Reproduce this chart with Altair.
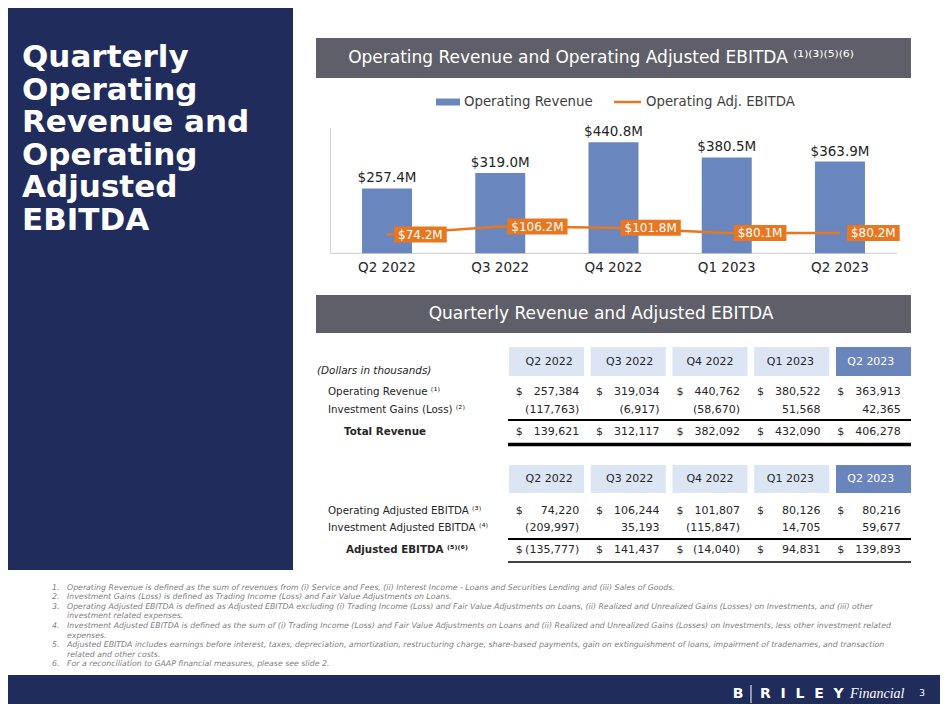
import altair as alt
import pandas as pd

# ---------------- values ----------------
quarters = ["Q2 2022", "Q3 2022", "Q4 2022", "Q1 2023", "Q2 2023"]
operating_revenue_m = [257.4, 319.0, 440.8, 380.5, 363.9]
operating_adj_ebitda_m = [74.2, 106.2, 101.8, 80.1, 80.2]

t1_operating_revenue = [257384, 319034, 440762, 380522, 363913]
t1_investment_gains = [-117763, -6917, -58670, 51568, 42365]
t1_total_revenue = [139621, 312117, 382092, 432090, 406278]

t2_operating_adj_ebitda = [74220, 106244, 101807, 80126, 80216]
t2_investment_adj_ebitda = [-209997, 35193, -115847, 14705, 59677]
t2_adjusted_ebitda = [-135777, 141437, -14040, 94831, 139893]

title_lines = ["Quarterly", "Operating", "Revenue and", "Operating", "Adjusted", "EBITDA"]
chart_title = "Operating Revenue and Operating Adjusted EBITDA \u207d\u00b9\u207e\u207d\u00b3\u207e\u207d\u2075\u207e\u207d\u2076\u207e"
table_title = "Quarterly Revenue and Adjusted EBITDA"
legend_labels = ["Operating Revenue", "Operating Adj. EBITDA"]
units_note = "(Dollars in thousands)"
t1_labels = ["Operating Revenue \u207d\u00b9\u207e", "Investment Gains (Loss) \u207d\u00b2\u207e", "Total Revenue"]
t2_labels = ["Operating Adjusted EBITDA \u207d\u00b3\u207e", "Investment Adjusted EBITDA \u207d\u2074\u207e",
             "Adjusted EBITDA \u207d\u2075\u207e\u207d\u2076\u207e"]
footnote_nums = ["1.", "2.", "3.", "", "4.", "", "5.", "", "6."]
footnote_lines = [
    "Operating Revenue is defined as the sum of revenues from (i) Service and Fees, (ii) Interest Income - Loans and Securities Lending and (iii) Sales of Goods.",
    "Investment Gains (Loss) is defined as Trading Income (Loss) and Fair Value Adjustments on Loans.",
    "Operating Adjusted EBITDA is defined as Adjusted EBITDA excluding (i) Trading Income (Loss) and Fair Value Adjustments on Loans, (ii) Realized and Unrealized Gains (Losses) on Investments, and  (iii) other",
    "investment related expenses.",
    "Investment Adjusted EBITDA is defined as the sum of (i) Trading Income (Loss) and Fair Value Adjustments on Loans and (ii) Realized and Unrealized Gains (Losses) on Investments, less other investment related",
    "expenses.",
    "Adjusted EBITDA includes earnings before interest, taxes, depreciation, amortization, restructuring charge, share-based payments, gain on extinguishment of loans, impairment of tradenames, and transaction",
    "related and other costs.",
    "For a reconciliation to GAAP financial measures, please see slide 2.",
]
page_number = "3"

# ---------------- styling / layout ----------------
W, H = 932, 696
OFF = 8
FONT = "DejaVu Sans"
NAVY = "#1f2c5c"
GRAYBAR = "#5f5f69"
BLUE = "#6a86be"
ORANGE = "#e87722"
HDR_LIGHT = "#dce5f3"
HDR_DARK = "#6a85bb"
TXT = "#262626"

LX = alt.Scale(domain=[OFF, OFF + W], range=[0, W], nice=False, zero=False)
LY = alt.Scale(domain=[OFF, OFF + H], range=[0, H], nice=False, zero=False)
ONE = alt.Data(values=[{"k": 0}])

# bar chart scales (pixel ranges of the plot region on the slide)
PX_PER_M = 0.252
BASE_Y = 253.3
CX = alt.Scale(domain=quarters, range=[330.4 - OFF, 896.6 - OFF], paddingInner=0, paddingOuter=0)
CY = alt.Scale(domain=[0, 500], range=[BASE_Y - OFF, BASE_Y - OFF - 500 * PX_PER_M], nice=False, zero=True)
# table column scale
TX = alt.Scale(domain=quarters, range=[509 - OFF, 911 - OFF], paddingInner=0.0826, paddingOuter=0)


def rect(x1, y1, x2, y2, color):
    return alt.Chart(ONE).mark_rect(color=color).encode(
        x=alt.XDatum(x1, type="quantitative", scale=LX, axis=None), x2=alt.X2Datum(x2),
        y=alt.YDatum(y1, type="quantitative", scale=LY, axis=None), y2=alt.Y2Datum(y2))


def rule(x1, y1, x2, y2, color, width):
    return alt.Chart(ONE).mark_rule(color=color, strokeWidth=width).encode(
        x=alt.XDatum(x1, type="quantitative", scale=LX, axis=None), x2=alt.X2Datum(x2),
        y=alt.YDatum(y1, type="quantitative", scale=LY, axis=None), y2=alt.Y2Datum(y2))


def texts(rows, **kw):
    return alt.Chart(pd.DataFrame(rows)).mark_text(**kw).encode(
        x=alt.X("x:Q", scale=LX, axis=None), y=alt.Y("y:Q", scale=LY, axis=None), text="t:N")


layers = []

# background panels
layers.append(rect(0, 0, 293, 570, NAVY))
layers.append(rect(0, 675, 960, 720, NAVY))
layers.append(rect(316, 38, 911, 78, GRAYBAR))
layers.append(rect(316, 295, 911, 333, GRAYBAR))

# left title
layers.append(texts([{"x": 22, "y": 67 + 32.6 * i, "t": s} for i, s in enumerate(title_lines)],
                    align="left", baseline="alphabetic", font=FONT, fontSize=31, fontWeight="bold", color="white"))

# section headers
layers.append(texts([{"x": 601, "y": 58, "t": chart_title}], align="center", baseline="middle",
                    font=FONT, fontSize=17, color="white"))
layers.append(texts([{"x": 601, "y": 314, "t": table_title}], align="center", baseline="middle",
                    font=FONT, fontSize=17, color="white"))

# legend
layers.append(rect(436, 98.5, 460, 105.5, BLUE))
layers.append(rule(614, 102, 641, 102, ORANGE, 2.5))
layers.append(texts([{"x": 464, "y": 102, "t": legend_labels[0]}, {"x": 646, "y": 102, "t": legend_labels[1]}],
                    align="left", baseline="middle", font=FONT, fontSize=13.3, color="#404040"))

# chart frame lines
layers.append(rule(330.5, 128, 330.5, BASE_Y, "#d4d4d4", 1))
layers.append(rule(330.5, BASE_Y, 897, BASE_Y, "#c8c8c8", 1))

# ---- bar + line chart ----
def box_path(label):
    w = 12 * (0.636 * (len(label) - 2) + 0.318 + 0.863) + 8
    return f"M7,-8H{7 + w:.1f}V8H7Z"

cdf = pd.DataFrame({
    "q": quarters,
    "rev": operating_revenue_m,
    "ebitda": operating_adj_ebitda_m,
})
cdf["rev_lab"] = [f"${v:.1f}M" for v in operating_revenue_m]
cdf["eb_lab"] = [f"${v:.1f}M" for v in operating_adj_ebitda_m]
cdf["box"] = [box_path(s) for s in cdf["eb_lab"]]

xq = alt.X("q:N", scale=CX, axis=None, sort=quarters)
base = alt.Chart(cdf)
layers.append(base.mark_bar(width=50, color=BLUE).encode(x=xq, y=alt.Y("rev:Q", scale=CY, axis=None)))
layers.append(base.mark_text(baseline="alphabetic", dy=-6, font=FONT, fontSize=13.5, color=TXT).encode(
    x=xq, y=alt.Y("rev:Q", scale=CY, axis=None), text="rev_lab:N"))
layers.append(base.mark_line(color=ORANGE, strokeWidth=2.5).encode(x=xq, y=alt.Y("ebitda:Q", scale=CY, axis=None)))
layers.append(base.mark_point(filled=True, opacity=1, size=4, color=ORANGE, strokeWidth=0).encode(
    x=xq, y=alt.Y("ebitda:Q", scale=CY, axis=None), shape=alt.Shape("box:N", scale=None)))
layers.append(base.mark_text(align="left", baseline="middle", dx=11, font=FONT, fontSize=12, color="white").encode(
    x=xq, y=alt.Y("ebitda:Q", scale=CY, axis=None), text="eb_lab:N"))
# x labels
layers.append(base.mark_text(baseline="alphabetic", font=FONT, fontSize=13.5, color=TXT).encode(
    x=xq, y=alt.YDatum(272, type="quantitative", scale=LY, axis=None), text="q:N"))

# ---- tables ----
def acct(v):
    return f"({abs(v):,})" if v < 0 else f"{v:,}"

T1 = {"hdr": (347, 376), "rows": [392, 410, 432], "rules": [(420, 2), (444.5, 3.5)]}
T2 = {"hdr": (465, 493), "rows": [510.5, 528, 549.5], "rules": [(539, 2.2), (562, 1.6)]}

hdr_recs, val_recs = [], []
for T in (T1, T2):
    for q in quarters:
        hdr_recs.append({"q": q, "y1": T["hdr"][0], "y2": T["hdr"][1], "yc": (T["hdr"][0] + T["hdr"][1]) / 2})
for T, rows in ((T1, [t1_operating_revenue, t1_investment_gains, t1_total_revenue]),
                (T2, [t2_operating_adj_ebitda, t2_investment_adj_ebitda, t2_adjusted_ebitda])):
    for r, vals in enumerate(rows):
        for q, v in zip(quarters, vals):
            val_recs.append({"q": q, "y": T["rows"][r], "v": acct(v), "d": "" if r == 1 else "$"})
hdf = pd.DataFrame(hdr_recs)
vdf = pd.DataFrame(val_recs)
tx = alt.X("q:N", scale=TX, axis=None, sort=quarters)
is_last = alt.datum.q == quarters[-1]
layers.append(alt.Chart(hdf).mark_rect().encode(
    x=tx, y=alt.Y("y1:Q", scale=LY, axis=None), y2="y2:Q",
    color=alt.condition(is_last, alt.value(HDR_DARK), alt.value(HDR_LIGHT))))
layers.append(alt.Chart(hdf).mark_text(baseline="middle", font=FONT, fontSize=11).encode(
    x=tx, y=alt.Y("yc:Q", scale=LY, axis=None), text="q:N",
    color=alt.condition(is_last, alt.value("white"), alt.value(TXT))))
layers.append(alt.Chart(vdf).mark_text(align="right", baseline="middle", dx=30, font=FONT, fontSize=11,
                                       color=TXT).encode(x=tx, y=alt.Y("y:Q", scale=LY, axis=None), text="v:N"))
layers.append(alt.Chart(vdf).mark_text(align="left", baseline="middle", dx=-33.5, font=FONT, fontSize=11,
                                       color=TXT).encode(x=tx, y=alt.Y("y:Q", scale=LY, axis=None), text="d:N"))
for T in (T1, T2):
    for (yy, sw) in T["rules"]:
        layers.append(rule(508, yy, 911, yy, "#000000", sw))

layers.append(texts([{"x": 317, "y": 371, "t": units_note}], align="left", baseline="middle", font=FONT,
                    fontSize=10.4, fontStyle="italic", color=TXT))
lab_rows = [{"x": 328, "y": T1["rows"][0], "t": t1_labels[0]}, {"x": 328, "y": T1["rows"][1], "t": t1_labels[1]},
            {"x": 328, "y": T2["rows"][0], "t": t2_labels[0]}, {"x": 328, "y": T2["rows"][1], "t": t2_labels[1]}]
layers.append(texts(lab_rows, align="left", baseline="middle", font=FONT, fontSize=10.3, color=TXT))
tot_rows = [{"x": 344, "y": T1["rows"][2], "t": t1_labels[2]}, {"x": 346, "y": T2["rows"][2], "t": t2_labels[2]}]
layers.append(texts(tot_rows, align="left", baseline="middle", font=FONT, fontSize=10.3, fontWeight="bold", color=TXT))

# footnotes
fn_y = [587.5 + 9.6 * i for i in range(len(footnote_lines))]
layers.append(texts([{"x": 52, "y": y, "t": n} for y, n in zip(fn_y, footnote_nums) if n],
                    align="left", baseline="middle", font=FONT, fontSize=7.8, fontStyle="italic", color="#808080"))
layers.append(texts([{"x": 67, "y": y, "t": s} for y, s in zip(fn_y, footnote_lines)],
                    align="left", baseline="middle", font=FONT, fontSize=7.8, fontStyle="italic", color="#808080"))

# logo and page number
layers.append(texts([{"x": 738, "y": 694, "t": "B"}], align="center", baseline="middle", font=FONT,
                    fontSize=14, fontWeight="bold", color="white"))
layers.append(rule(751, 685, 751, 703, "white", 1))
layers.append(texts([{"x": 760, "y": 694, "t": "R\u2007I\u2007L\u2007E\u2007Y"}], align="left", baseline="middle",
                    font=FONT, fontSize=14, fontWeight="bold", color="white"))
layers.append(texts([{"x": 850, "y": 694, "t": "Financial"}], align="left", baseline="middle",
                    font="Liberation Serif", fontSize=14, fontStyle="italic", color="white"))
layers.append(texts([{"x": 922, "y": 693, "t": page_number}], align="center", baseline="middle",
                    font=FONT, fontSize=9, color="white"))

chart = alt.layer(*layers).resolve_scale(
    x="independent", y="independent", color="independent", shape="independent"
).properties(
    width=W, height=H, autosize=alt.AutoSizeParams(type="none"), padding=0
).configure_view(strokeWidth=0)

chart.save("out.html", embed_options={"renderer": "svg", "actions": False})
